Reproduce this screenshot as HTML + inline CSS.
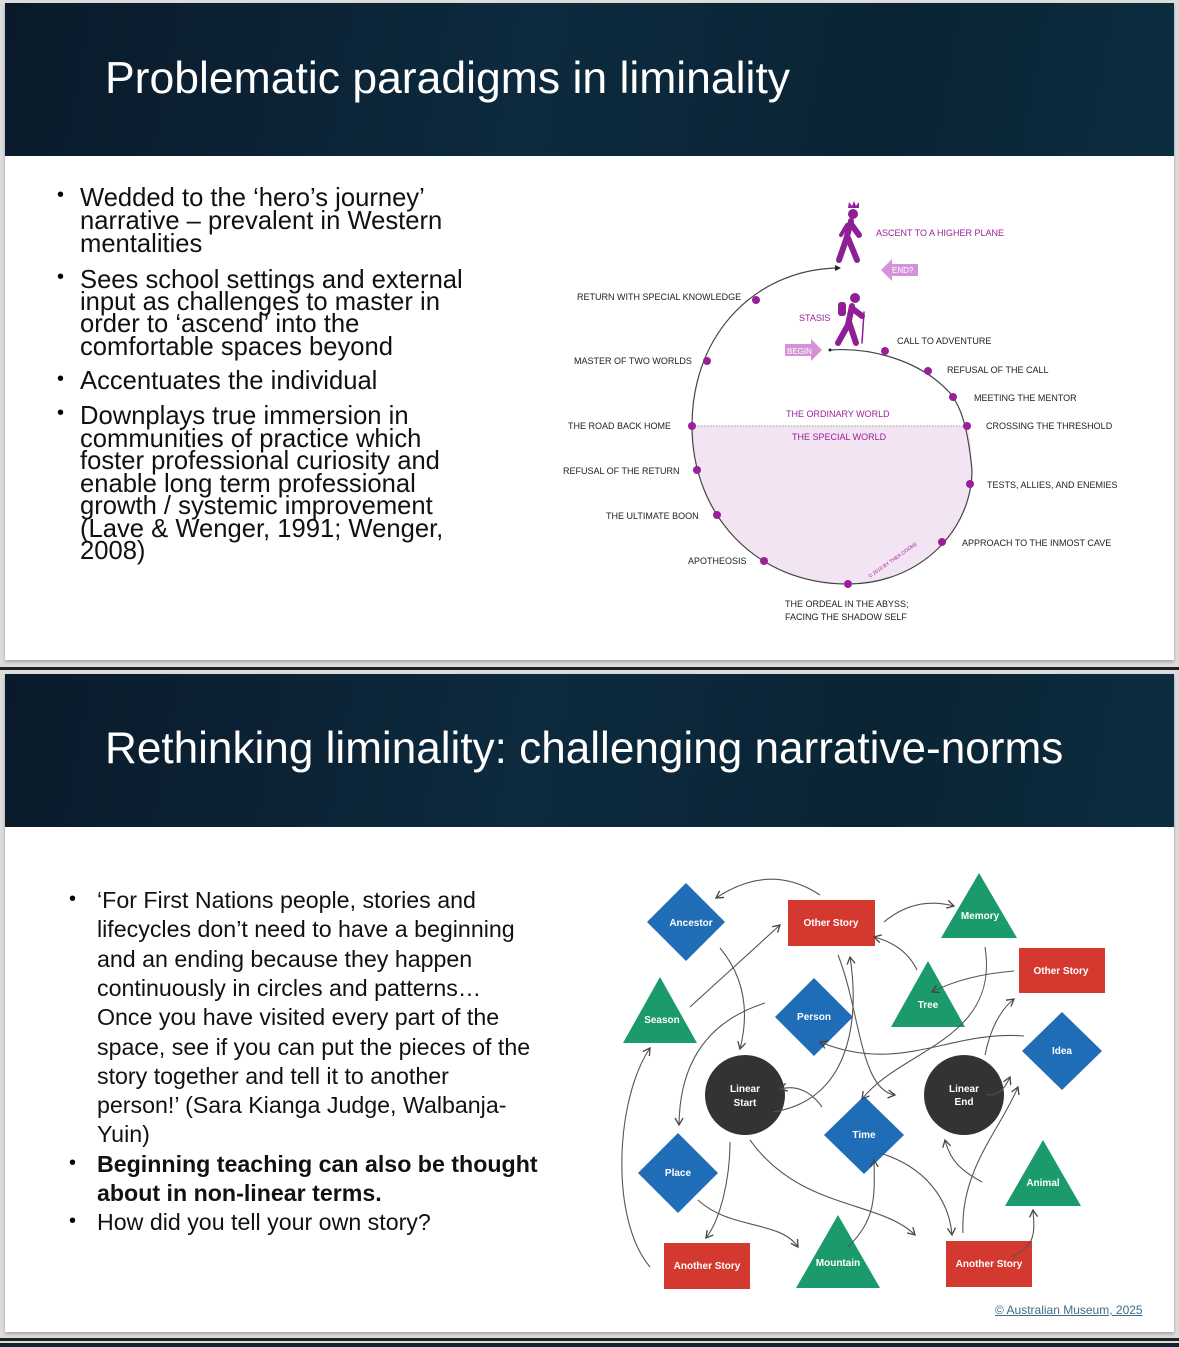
<!DOCTYPE html>
<html><head><meta charset="utf-8"><style>
body{margin:0;width:1179px;height:1347px;background:#dcdcdc;position:relative;overflow:hidden;font-family:"Liberation Sans",sans-serif}
.slide{position:absolute;left:5px;width:1169px;background:#fff;box-shadow:0 2px 3px rgba(0,0,0,.25)}
.hdr{position:absolute;left:0;top:0;width:1169px;height:153px;background:linear-gradient(100deg,#0a1a2a 0%,#0d2a3e 45%,#0a2434 75%,#0c2d40 100%)}
.title{position:absolute;left:100px;color:#fff;font-size:44.5px;white-space:nowrap}
.bar{position:absolute;left:0;width:1179px;height:3px;background:#222}
.l{position:absolute;white-space:nowrap;color:#111}
.s1{font-size:25.6px;line-height:24px;left:80px}
.s2{font-size:23.2px;line-height:26px;left:97px}
.b{position:absolute;font-size:20px}
</style></head><body>
<div class="slide" style="top:3px;height:657px">
 <div class="hdr"></div>
 <div class="title" style="top:51px">Problematic paradigms in liminality</div>
</div>
<div class="bar" style="top:667px"></div>
<div class="slide" style="top:674px;height:658px">
 <div class="hdr"></div>
 <div class="title" style="top:50px;font-size:44.1px">Rethinking liminality: challenging narrative-norms</div>
</div>
<div class="bar" style="top:1338px"></div>
<div style="position:absolute;left:0;top:1343px;width:1179px;height:4px;background:#0c2433"></div>

<!-- slide 1 text -->
<div class="b" style="left:57px;top:184px">•</div>
<div class="l s1" style="top:186px">Wedded to the ‘hero’s journey’</div>
<div class="l s1" style="top:209px">narrative – prevalent in Western</div>
<div class="l s1" style="top:232px">mentalities</div>
<div class="b" style="left:57px;top:266px">•</div>
<div class="l s1" style="top:268px">Sees school settings and external</div>
<div class="l s1" style="top:290px">input as challenges to master in</div>
<div class="l s1" style="top:312px">order to ‘ascend’ into the</div>
<div class="l s1" style="top:335px">comfortable spaces beyond</div>
<div class="b" style="left:57px;top:368px">•</div>
<div class="l s1" style="top:369px">Accentuates the individual</div>
<div class="b" style="left:57px;top:402px">•</div>
<div class="l s1" style="top:404px">Downplays true immersion in</div>
<div class="l s1" style="top:427px">communities of practice which</div>
<div class="l s1" style="top:449px">foster professional curiosity and</div>
<div class="l s1" style="top:472px">enable long term professional</div>
<div class="l s1" style="top:494px">growth / systemic improvement</div>
<div class="l s1" style="top:517px">(Lave &amp; Wenger, 1991; Wenger,</div>
<div class="l s1" style="top:539px">2008)</div>

<!-- slide 2 text -->
<div class="b" style="left:69px;top:888px">•</div>
<div class="l s2" style="top:887px">‘For First Nations people, stories and</div>
<div class="l s2" style="top:916px">lifecycles don’t need to have a beginning</div>
<div class="l s2" style="top:946px">and an ending because they happen</div>
<div class="l s2" style="top:975px">continuously in circles and patterns…</div>
<div class="l s2" style="top:1004px">Once you have visited every part of the</div>
<div class="l s2" style="top:1034px">space, see if you can put the pieces of the</div>
<div class="l s2" style="top:1063px">story together and tell it to another</div>
<div class="l s2" style="top:1092px">person!’  (Sara Kianga Judge, Walbanja-</div>
<div class="l s2" style="top:1121px">Yuin)</div>
<div class="b" style="left:69px;top:1152px">•</div>
<div class="l s2" style="top:1151px;font-weight:bold">Beginning teaching can also be thought</div>
<div class="l s2" style="top:1180px;font-weight:bold">about in non-linear terms.</div>
<div class="b" style="left:69px;top:1210px">•</div>
<div class="l s2" style="top:1209px">How did you tell your own story?</div>
<div class="l" style="left:995px;top:1303px;font-size:12px;color:#3d6d8a;text-decoration:underline">© Australian Museum, 2025</div>

<svg style="position:absolute;left:0;top:0" width="1179" height="1347" font-family="Liberation Sans, sans-serif">
<defs>
<marker id="a" markerWidth="10" markerHeight="10" refX="8" refY="5" orient="auto" markerUnits="userSpaceOnUse"><path d="M1,1 L8,5 L1,9" fill="none" stroke="#444" stroke-width="1.3"/></marker>
<marker id="k" markerWidth="6" markerHeight="6" refX="5" refY="3" orient="auto" markerUnits="userSpaceOnUse"><path d="M0,0 L6,3 L0,6z" fill="#222"/></marker>
</defs>
<!-- hero diagram -->
<path d="M692,426 C692,513 754,584 848,584 C920,584 972,530 972,470 C972,450 970,437 968,426 Z" fill="#f3e4f3"/>
<line x1="692" y1="426" x2="968" y2="426" stroke="#999" stroke-dasharray="1.5,1.5"/>
<path d="M830,350 C870,347 920,360 950,393 C962,408 968,430 972,470 C972,530 920,584 848,584 C754,584 692,513 692,426 C692,330 760,268 840,268" fill="none" stroke="#444" stroke-width="1.2" marker-end="url(#k)"/>
<circle cx="830" cy="350" r="1.5" fill="#222"/>
<g fill="#9a1f9a">
<circle cx="756" cy="300" r="4"/><circle cx="707" cy="361" r="4"/><circle cx="692" cy="426" r="4"/><circle cx="697" cy="470" r="4"/><circle cx="717" cy="515" r="4"/><circle cx="764" cy="561" r="4"/><circle cx="848" cy="584" r="4"/><circle cx="942" cy="542" r="4"/><circle cx="970" cy="484" r="4"/><circle cx="967" cy="426" r="4"/><circle cx="953" cy="397" r="4"/><circle cx="928" cy="371" r="4"/><circle cx="885" cy="351" r="4"/>
</g>
<g fill="#8e1f94" stroke="#8e1f94" stroke-linecap="round">
<circle cx="853" cy="214" r="5" stroke="none"/>
<path d="M848,208 l1,-6 3,4 2,-5 2,5 3,-4 0,6z" stroke="none"/>
<path d="M851,221 L846,240 L839,260 M848,238 L857,260 M851,224 L859,235" stroke-width="6" fill="none"/>
<path d="M847,225 L841,235" stroke-width="4" fill="none"/>
<circle cx="855" cy="298" r="5" stroke="none"/>
<rect x="838" y="302" width="8" height="14" rx="3" stroke="none"/>
<path d="M852,306 L848,325 L838,343 M849,322 L856,343 M853,309 L862,316" stroke-width="6" fill="none"/>
<path d="M864,312 L862,343" stroke-width="1.5" fill="none"/>
</g>
<g fill="#d592d8">
<path d="M785,344 h26 v-5 l11,11 -11,11 v-5 h-26z"/>
<path d="M918,264 h-26 v-5 l-11,11 11,11 v-5 h26z"/>
</g>
<text x="787" y="354" font-size="8" fill="#fff">BEGIN</text>
<text x="892" y="273" font-size="8" fill="#fff">END?</text>
<g font-size="9" fill="#9a1f9a">
<text x="876" y="236">ASCENT TO A HIGHER PLANE</text>
<text x="799" y="321">STASIS</text>
<text x="786" y="417">THE ORDINARY WORLD</text>
<text x="792" y="440">THE SPECIAL WORLD</text>
<text x="870" y="578" font-size="5" transform="rotate(-35 870 578)">© 2019 BY THEA COOKE</text>
</g>
<g font-size="9" fill="#222">
<text x="577" y="300">RETURN WITH SPECIAL KNOWLEDGE</text>
<text x="574" y="364">MASTER OF TWO WORLDS</text>
<text x="568" y="429">THE ROAD BACK HOME</text>
<text x="563" y="474">REFUSAL OF THE RETURN</text>
<text x="606" y="519">THE ULTIMATE BOON</text>
<text x="688" y="564">APOTHEOSIS</text>
<text x="785" y="607">THE ORDEAL IN THE ABYSS;</text>
<text x="785" y="620">FACING THE SHADOW SELF</text>
<text x="962" y="546">APPROACH TO THE INMOST CAVE</text>
<text x="987" y="488">TESTS, ALLIES, AND ENEMIES</text>
<text x="986" y="429">CROSSING THE THRESHOLD</text>
<text x="974" y="401">MEETING THE MENTOR</text>
<text x="947" y="373">REFUSAL OF THE CALL</text>
<text x="897" y="344">CALL TO ADVENTURE</text>
</g>

<!-- network diagram -->
<g fill="#1f6db6">
<path d="M686,883 l39,39 -39,39 -39,-39z"/>
<path d="M814,978 l39,39 -39,39 -39,-39z"/>
<path d="M1062,1012 l40,39 -40,39 -40,-39z"/>
<path d="M864,1096 l40,39 -40,39 -40,-39z"/>
<path d="M678,1133 l40,40 -40,40 -40,-40z"/>
</g>
<g fill="#1b9a6b">
<path d="M979,873 L1017,938 L941,938z"/>
<path d="M928,961 L965,1027 L891,1027z"/>
<path d="M660,977 L697,1043 L623,1043z"/>
<path d="M1043,1140 L1081,1206 L1005,1206z"/>
<path d="M838,1215 L880,1288 L796,1288z"/>
</g>
<g fill="#d3392f">
<rect x="788" y="900" width="87" height="46"/>
<rect x="1019" y="948" width="86" height="45"/>
<rect x="664" y="1243" width="86" height="46"/>
<rect x="946" y="1241" width="86" height="46"/>
</g>
<g fill="#333"><circle cx="745" cy="1095" r="40"/><circle cx="964" cy="1095" r="40"/></g>
<g font-size="10" fill="#fff" text-anchor="middle" font-weight="bold">
<text x="691" y="926">Ancestor</text>
<text x="831" y="926">Other Story</text>
<text x="980" y="919">Memory</text>
<text x="1061" y="974">Other Story</text>
<text x="928" y="1008">Tree</text>
<text x="662" y="1023">Season</text>
<text x="814" y="1020">Person</text>
<text x="1062" y="1054">Idea</text>
<text x="745" y="1092">Linear</text><text x="745" y="1106">Start</text>
<text x="964" y="1092">Linear</text><text x="964" y="1105">End</text>
<text x="864" y="1138">Time</text>
<text x="678" y="1176">Place</text>
<text x="1043" y="1186">Animal</text>
<text x="707" y="1269">Another Story</text>
<text x="838" y="1266">Mountain</text>
<text x="989" y="1267">Another Story</text>
</g>
<g fill="none" stroke="#555" stroke-width="1.1" marker-end="url(#a)">
<path d="M820,895 Q770,862 716,898"/>
<path d="M884,922 Q915,896 954,906"/>
<path d="M690,1007 L780,925"/>
<path d="M720,948 Q755,990 740,1049"/>
<path d="M765,1003 Q680,1030 679,1125"/>
<path d="M917,970 Q905,945 874,937"/>
<path d="M1014,971 Q965,975 932,992"/>
<path d="M985,947 C1000,1040 900,1050 862,1099"/>
<path d="M1024,1036 C950,1030 900,1075 820,1042"/>
<path d="M838,955 C860,1010 860,1090 895,1095"/>
<path d="M773,1112 C850,1100 860,1020 850,957"/>
<path d="M822,1107 C810,1090 795,1085 780,1089"/>
<path d="M985,1055 C990,1030 1000,1010 1014,999"/>
<path d="M987,1095 C1000,1095 1005,1088 1010,1077"/>
<path d="M730,1142 C730,1180 720,1220 706,1238"/>
<path d="M750,1140 C800,1210 880,1200 915,1235"/>
<path d="M698,1200 C730,1230 780,1220 798,1247"/>
<path d="M848,1247 C875,1220 875,1200 874,1160"/>
<path d="M880,1153 C935,1170 950,1210 952,1235"/>
<path d="M963,1233 C960,1170 1000,1130 1018,1087"/>
<path d="M982,1182 C960,1170 950,1160 945,1140"/>
<path d="M1012,1257 C1035,1245 1035,1235 1033,1210"/>
<path d="M650,1267 C610,1220 615,1100 650,1048"/>
</g>
</svg>
</body></html>
